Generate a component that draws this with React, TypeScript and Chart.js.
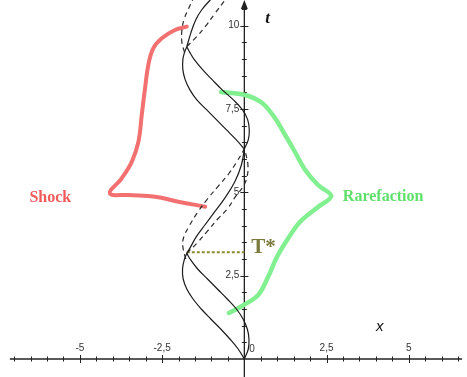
import React, { useEffect, useRef } from "react";
import { Chart, registerables } from "chart.js";

Chart.register(...registerables);

// ---- axis ranges & tick labels ----
const xRange = [-7.43, 6.77];
const tRange = [-0.54, 10.77];
const xTickValues = [-5, -2.5, 0, 2.5, 5];
const xTickLabels = ["-5", "-2,5", "0", "2,5", "5"];
const tTickValues = [2.5, 5, 7.5, 10];
const tTickLabels = ["2,5", "5", "7,5", "10"];

// ---- lower lens (0 .. pi) ----
const lowLensT = [0, 0.3, 0.6, 0.9, 1.2, 1.5, 1.8, 2.1, 2.4, 2.7, 3.0, 3.17];
const lowLeftX = [0, -0.19, -0.44, -0.72, -1.02, -1.31, -1.56, -1.75, -1.86, -1.88, -1.82, -1.75];
const lowRightX = [0, 0.12, 0.14, 0.09, -0.04, -0.24, -0.52, -0.82, -1.12, -1.42, -1.65, -1.75];

// ---- middle band (pi .. 2pi) ----
const midSolidT = [3.17, 3.37, 3.67, 4.02, 4.42, 4.82, 5.32, 5.82, 6.3];
const midSolidX = [-1.75, -1.63, -1.46, -1.2, -0.9, -0.6, -0.29, -0.09, 0];
const midLeftDashT = [3.0, 3.3, 3.6, 4.0, 4.4, 4.8, 5.2, 5.55, 5.9, 6.3];
const midLeftDashX = [-1.78, -1.86, -1.86, -1.67, -1.42, -1.12, -0.78, -0.48, -0.24, 0];
const midRightDashT = [3.17, 3.5, 3.85, 4.2, 4.5, 4.9, 5.2, 5.5, 5.8, 6.05, 6.3];
const midRightDashX = [-1.75, -1.42, -1.11, -0.81, -0.52, -0.25, -0.02, 0.09, 0.11, 0.07, 0];

// ---- upper lens (2pi .. 3pi) ----
const upLensT = [6.3, 6.58, 6.88, 7.18, 7.48, 7.78, 8.08, 8.38, 8.68, 8.98, 9.2, 9.37];
const upLeftX = [0, -0.25, -0.55, -0.85, -1.15, -1.45, -1.66, -1.8, -1.87, -1.87, -1.82, -1.75];
const upRightX = [0, 0.12, 0.15, 0.1, -0.06, -0.34, -0.68, -0.98, -1.27, -1.52, -1.66, -1.75];

// ---- top band (above 3pi) ----
const topSolidT = [9.37, 9.77, 10.17, 10.47, 10.77, 10.9];
const topSolidX = [-1.75, -1.63, -1.48, -1.3, -1.04, -0.92];
const topLeftDashT = [9.2, 9.5, 9.85, 10.2, 10.5, 10.8, 10.9];
const topLeftDashX = [-1.82, -1.9, -1.9, -1.83, -1.7, -1.56, -1.5];
const topRightDashT = [9.37, 9.67, 9.97, 10.37, 10.77, 10.9];
const topRightDashX = [-1.75, -1.45, -1.19, -0.89, -0.59, -0.5];

// ---- T* marker ----
const tStarT = [3.2, 3.2];
const tStarX = [-1.75, 0];

// ---- hand-drawn "Shock" stroke ----
const shockX = [-1.75, -2.11, -2.51, -2.77, -2.92, -3.02, -3.12, -3.22, -3.42, -3.73, -4.09, -3.53, -2.71, -2.01, -1.19];
const shockT = [9.97, 9.87, 9.62, 9.32, 8.82, 8.12, 7.32, 6.52, 5.92, 5.42, 4.97, 4.92, 4.87, 4.72, 4.57];

// ---- hand-drawn "Rarefaction" stroke ----
const rareX = [-0.71, 0.02, 0.54, 0.93, 1.24, 1.54, 1.85, 2.24, 2.64, 2.24, 1.69, 1.3, 0.99, 0.72, 0.42, -0.07, -0.47];
const rareT = [8.01, 7.92, 7.68, 7.23, 6.72, 6.21, 5.67, 5.22, 4.89, 4.56, 4.11, 3.57, 3.06, 2.46, 1.92, 1.59, 1.38];

const pts = (xs: number[], ts: number[]) => xs.map((x, i) => ({ x, y: ts[i] }));

const CURVE = "#1c1c1c";
const DASH = "#2a2a2a";

const axesPlugin = {
  id: "centerAxes",
  beforeDatasetsDraw(chart: any) {
    const { ctx, scales } = chart;
    const sx = scales.x;
    const sy = scales.y;
    const px = (v: number) => sx.getPixelForValue(v);
    const py = (v: number) => sy.getPixelForValue(v);
    const x0 = px(0);
    const y0 = py(0);
    ctx.save();
    ctx.strokeStyle = "#222";
    ctx.fillStyle = "#222";
    ctx.lineWidth = 1.3;
    ctx.beginPath();
    ctx.moveTo(px(-7.13), y0);
    ctx.lineTo(px(6.62), y0);
    ctx.stroke();
    ctx.beginPath();
    ctx.moveTo(x0, py(-0.55));
    ctx.lineTo(x0, py(10.55));
    ctx.stroke();
    // arrow head on t axis
    const tip = py(10.77);
    ctx.beginPath();
    ctx.moveTo(x0, tip);
    ctx.lineTo(x0 - 3.5, tip + 9);
    ctx.lineTo(x0 + 3.5, tip + 9);
    ctx.closePath();
    ctx.fill();
    // ticks
    ctx.lineWidth = 1;
    for (let k = -14; k <= 13; k++) {
      if (k === 0) continue;
      const v = k * 0.5;
      const h = k % 5 === 0 ? 4 : 2.5;
      const p = Math.round(px(v)) + 0.5;
      ctx.beginPath();
      ctx.moveTo(p, y0 - h);
      ctx.lineTo(p, y0 + h);
      ctx.stroke();
    }
    for (let k = 1; k <= 21; k++) {
      const v = k * 0.5;
      const h = k % 5 === 0 ? 4 : 2.5;
      const p = Math.round(py(v)) + 0.5;
      ctx.beginPath();
      ctx.moveTo(x0 - h, p);
      ctx.lineTo(x0 + h, p);
      ctx.stroke();
    }
    // tick labels
    ctx.font = '10px "Liberation Sans", Arial, sans-serif';
    ctx.fillStyle = "#333";
    ctx.textBaseline = "middle";
    xTickValues.forEach((v, i) => {
      if (v === 0) {
        ctx.textAlign = "left";
        ctx.fillText(xTickLabels[i], x0 + 5, y0 - 10);
      } else {
        ctx.textAlign = "center";
        ctx.fillText(xTickLabels[i], px(v), y0 - 11);
      }
    });
    ctx.textAlign = "right";
    tTickValues.forEach((v, i) => {
      ctx.fillText(tTickLabels[i], x0 - 5, py(v));
    });
    ctx.restore();
  },
  afterDraw(chart: any) {
    const { ctx, scales } = chart;
    const px = (v: number) => scales.x.getPixelForValue(v);
    const py = (v: number) => scales.y.getPixelForValue(v);
    ctx.save();
    ctx.textBaseline = "middle";
    ctx.textAlign = "center";
    ctx.font = 'bold 16px "Liberation Serif", "Times New Roman", serif';
    ctx.fillStyle = "#f05a5a";
    ctx.fillText("Shock", px(-5.9), py(4.83));
    ctx.fillStyle = "#5fe06a";
    ctx.fillText("Rarefaction", px(4.22), py(4.86));
    ctx.font = 'bold 21px "Liberation Serif", "Times New Roman", serif';
    ctx.fillStyle = "#7a7a3c";
    ctx.fillText("T*", px(0.58), py(3.33));
    ctx.font = 'italic bold 17px "Liberation Serif", "Times New Roman", serif';
    ctx.fillStyle = "#111";
    ctx.fillText("t", px(0.71), py(10.2));
    ctx.font = 'italic 15px "Liberation Sans", Arial, sans-serif';
    ctx.fillText("x", px(4.12), py(0.96));
    ctx.restore();
  },
};

export default function App() {
  const ref = useRef<HTMLCanvasElement | null>(null);
  useEffect(() => {
    if (!ref.current) return;
    const solid = (xs: number[], ts: number[]) => ({
      data: pts(xs, ts),
      showLine: true,
      borderColor: CURVE,
      borderWidth: 1.2,
      pointRadius: 0,
      tension: 0.4,
      fill: false,
    });
    const dashed = (xs: number[], ts: number[]) => ({
      data: pts(xs, ts),
      showLine: true,
      borderColor: DASH,
      borderWidth: 1.2,
      borderDash: [5, 4],
      pointRadius: 0,
      tension: 0.4,
      fill: false,
    });
    const chart = new Chart(ref.current, {
      type: "scatter",
      data: {
        datasets: [
          solid(lowLeftX, lowLensT),
          solid(lowRightX, lowLensT),
          solid(midSolidX, midSolidT),
          dashed(midLeftDashX, midLeftDashT),
          dashed(midRightDashX, midRightDashT),
          solid(upLeftX, upLensT),
          solid(upRightX, upLensT),
          solid(topSolidX, topSolidT),
          dashed(topLeftDashX, topLeftDashT),
          dashed(topRightDashX, topRightDashT),
          {
            data: pts(tStarX, tStarT),
            showLine: true,
            borderColor: "#8c8c2a",
            borderWidth: 2,
            borderDash: [3, 2],
            pointRadius: 0,
          },
          {
            data: pts(shockX, shockT),
            showLine: true,
            borderColor: "#f27070",
            borderWidth: 4,
            pointRadius: 0,
            tension: 0.4,
            borderCapStyle: "round",
            borderJoinStyle: "round",
          },
          {
            data: pts(rareX, rareT),
            showLine: true,
            borderColor: "#82f090",
            borderWidth: 4.5,
            pointRadius: 0,
            tension: 0.35,
            borderCapStyle: "round",
            borderJoinStyle: "round",
          },
        ] as any,
      },
      options: {
        animation: false,
        responsive: true,
        maintainAspectRatio: false,
        layout: { padding: 0 },
        plugins: { legend: { display: false }, tooltip: { enabled: false } },
        scales: {
          x: { type: "linear", min: xRange[0], max: xRange[1], display: false },
          y: { type: "linear", min: tRange[0], max: tRange[1], display: false },
        },
      },
      plugins: [axesPlugin],
    });
    return () => chart.destroy();
  }, []);
  return (
    <div style={{ position: "fixed", left: 0, top: 0, width: 467, height: 377, background: "#fff" }}>
      <canvas ref={ref} />
    </div>
  );
}
